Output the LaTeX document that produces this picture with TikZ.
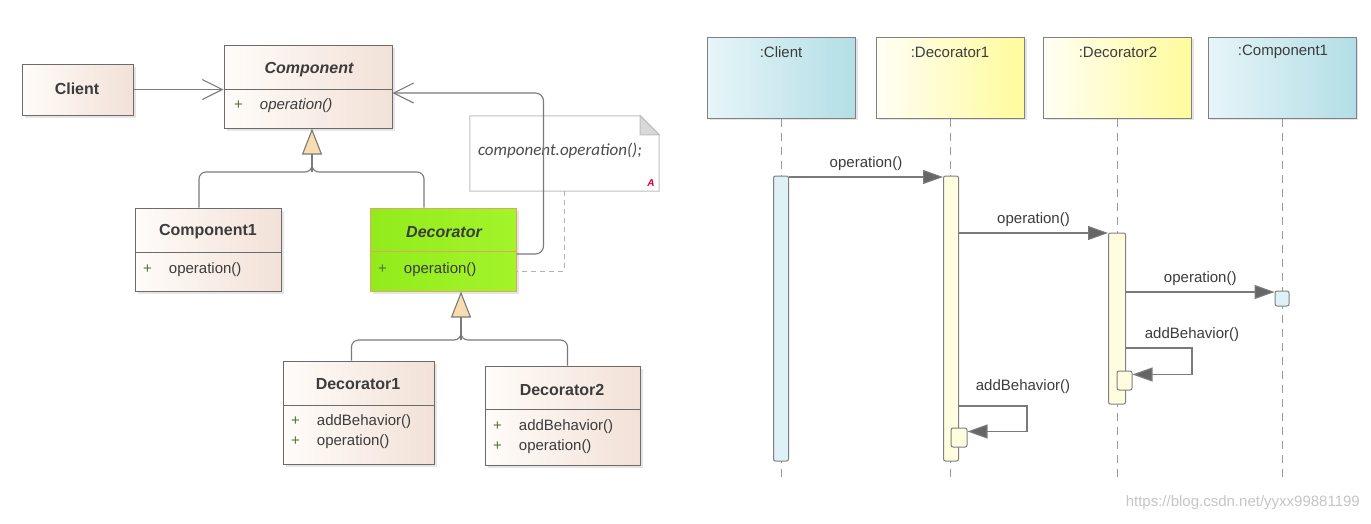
\documentclass[tikz,border=0pt]{standalone}
\usepackage{fontspec}
\setmainfont{Liberation Sans}
\newfontfamily\notefont{Carlito}
\usetikzlibrary{positioning,arrows.meta,shadows,calc}

\definecolor{clsleft}{HTML}{FFFCF9}
\definecolor{clsright}{HTML}{F2E1D7}
\definecolor{clsdraw}{HTML}{6B6B6B}
\definecolor{decleft}{HTML}{92EB1C}
\definecolor{decright}{HTML}{A3F42A}
\definecolor{decdraw}{HTML}{DCA860}
\definecolor{trifill}{HTML}{F7DDB0}
\definecolor{txtdark}{HTML}{3C3C3C}
\definecolor{plusgreen}{HTML}{55703A}
\definecolor{linegray}{HTML}{7A7A7A}
\definecolor{cyanleft}{HTML}{E6F5F9}
\definecolor{cyanright}{HTML}{B3DEE5}
\definecolor{cyanbar}{HTML}{DDF1F6}
\definecolor{yelleft}{HTML}{FFFEF4}
\definecolor{yelright}{HTML}{FFFB9C}
\definecolor{yelbar}{HTML}{FFFDDF}

\newcommand\oprow[1]{\textcolor{plusgreen}{+}\hspace{17pt}#1}

\tikzset{
  umlclass/.style={rectangle, draw=clsdraw, line width=1pt, left color=clsleft, right color=clsright,
    inner sep=0pt, drop shadow={shadow xshift=3pt, shadow yshift=-3pt, opacity=0.2}},
  declass/.style={umlclass, draw=decdraw, left color=decleft, right color=decright},
  divider/.style={draw=clsdraw, line width=1pt},
  ctitle/.style={inner sep=0pt, text=txtdark, font=\fontsize{16}{19}\selectfont\bfseries},
  cop/.style={inner sep=0pt, anchor=west, text=txtdark, font=\fontsize{15}{18}\selectfont},
  conn/.style={draw=linegray, line width=1.1pt},
  assoc/.style={conn, -{Straight Barb[length=20pt,width=20pt]}},
  gen/.style={conn, -{Triangle[length=26pt,width=20pt,fill=trifill]}},
  notelink/.style={draw=gray!60, line width=1pt, dash pattern=on 5pt off 4pt},
  head/.style={rectangle, draw=gray, line width=1pt, minimum width=148pt, minimum height=81pt,
    drop shadow={shadow xshift=2pt, shadow yshift=-2pt, opacity=0.2}},
  cyanhead/.style={head, left color=cyanleft, right color=cyanright},
  yelhead/.style={head, left color=yelleft, right color=yelright},
  headlbl/.style={inner sep=0pt, text=txtdark, font=\fontsize{15}{18}\selectfont},
  lifeline/.style={draw=gray!80, line width=1pt, dash pattern=on 8pt off 6pt},
  actbar/.style={rectangle, draw=gray, line width=1pt, rounded corners=2pt, inner sep=0pt},
  msg/.style={draw=linegray, line width=1.1pt, -{Triangle[length=20pt,width=14pt,fill=gray!80!black]}},
  msglbl/.style={inner sep=0pt, text=txtdark, font=\fontsize{15}{18}\selectfont},
}

\begin{document}
\begin{tikzpicture}[x=1pt, y=-1pt]
  \fill[white] (0,0) rectangle (1371,523);
  \useasboundingbox (0,0) rectangle (1371,523);

  % note
  \node[minimum width=189pt, minimum height=75pt, inner sep=0pt] (note) at (564.5,153.5) {};
  \draw[draw=gray!50, fill=white, line width=1pt] (note.south west) -- (note.north west)
    -- ($(note.north east)+(-19,0)$) -- ($(note.north east)+(0,19)$) -- (note.south east) -- cycle;
  \draw[draw=gray!50, fill=gray!30, line width=1pt] ($(note.north east)+(-19,0)$) -- ++(0,19) -- ++(19,0) -- cycle;
  \node[inner sep=0pt, text=gray!60!black, font=\notefont\fontsize{17}{20}\selectfont\itshape] (ntxt) at (560,151) {component.operation();};
  \node[inner sep=0pt, text=red!85!blue, font=\fontsize{10}{11}\selectfont\bfseries\itshape] (nmark) at (651,183) {A};

  % classes
  \node[umlclass, minimum width=111pt, minimum height=51pt] (client) at (77.5,89.5) {};
  \node[ctitle] (tclient) at (77,89) {Client};

  \node[umlclass, minimum width=168pt, minimum height=83pt] (comp) at (308,86.5) {};
  \draw[divider] (comp.west |- 0,89) -- (comp.east |- 0,89);
  \node[ctitle] (tcomp) at (309,70) {\itshape Component};
  \node[cop] (ocomp) at (234,106) {\oprow{\itshape operation()}};

  \node[umlclass, minimum width=146pt, minimum height=83pt] (cmp1) at (208,249.5) {};
  \draw[divider] (cmp1.west |- 0,252) -- (cmp1.east |- 0,252);
  \node[ctitle] (tcmp1) at (208,232) {Component1};
  \node[cop] (ocmp1) at (143,270) {\oprow{operation()}};

  \node[declass, minimum width=146pt, minimum height=83pt] (decor) at (443,249.5) {};
  \draw[divider, draw=decdraw] (decor.west |- 0,251) -- (decor.east |- 0,251);
  \node[ctitle] (tdecor) at (444,232) {\itshape Decorator};
  \node[cop] (odecor) at (378,270) {\oprow{operation()}};

  \node[umlclass, minimum width=151pt, minimum height=103pt] (dec1) at (358.5,412.5) {};
  \draw[divider] (dec1.west |- 0,405) -- (dec1.east |- 0,405);
  \node[ctitle] (tdec1) at (358,384) {Decorator1};
  \node[cop] (r1dec1) at (291,422) {\oprow{addBehavior()}};
  \node[cop] (r2dec1) at (291,442) {\oprow{operation()}};

  \node[umlclass, minimum width=155pt, minimum height=99pt] (dec2) at (562.5,415.5) {};
  \draw[divider] (dec2.west |- 0,409) -- (dec2.east |- 0,409);
  \node[ctitle] (tdec2) at (562,390) {Decorator2};
  \node[cop] (r1dec2) at (493,427) {\oprow{addBehavior()}};
  \node[cop] (r2dec2) at (493,447) {\oprow{operation()}};

  % class connectors
  \draw[assoc] (client.east) -- (client.east -| comp.west);
  \draw[assoc, rounded corners=8pt] (decor.east |- 0,254) -- ++(27,0) |- (comp.east |- 0,93);
  \draw[notelink] (note.south) |- (decor.east |- 0,271);

  \coordinate (jn1) at (312,172);
  \draw[gen] (jn1) -- (jn1 |- comp.south);
  \draw[conn, rounded corners=7pt] ([xshift=-9pt]cmp1.north) |- (jn1) -- ++(0,-10);
  \draw[conn, rounded corners=7pt] ([xshift=-19pt]decor.north) |- (jn1) -- ++(0,-10);

  \coordinate (jn2) at (461,340);
  \draw[gen] (jn2) -- (jn2 |- decor.south);
  \draw[conn, rounded corners=7pt] ([xshift=-7pt]dec1.north) |- (jn2) -- ++(0,-10);
  \draw[conn, rounded corners=7pt] ([xshift=5pt]dec2.north) |- (jn2) -- ++(0,-10);

  % sequence heads and lifelines
  \node[cyanhead] (hcli) at (781.5,77.5) {};
  \node[yelhead] (hdec1) at (950.5,77.5) {};
  \node[yelhead] (hdec2) at (1117.5,77.5) {};
  \node[cyanhead] (hcmp1) at (1282,77.5) {};
  \node[headlbl] (lcli) at (781,52) {:Client};
  \node[headlbl] (ldec1) at (950,52) {:Decorator1};
  \node[headlbl] (ldec2) at (1118,52) {:Decorator2};
  \node[headlbl] (lcmp1) at (1283,52) {:Component1};

  \draw[lifeline] (hcli.south) -- ++(0,359);
  \draw[lifeline] (hdec1.south) -- ++(0,359);
  \draw[lifeline] (hdec2.south) -- ++(0,359);
  \draw[lifeline] (hcmp1.south) -- ++(0,359);

  % activations
  \node[actbar, fill=cyanbar, minimum width=15pt, minimum height=285pt] (acli) at (781,318.5) {};
  \node[actbar, fill=yelbar, minimum width=15pt, minimum height=285pt] (adec1) at (951,318.5) {};
  \node[actbar, fill=yelbar, minimum width=17pt, minimum height=171pt] (adec2) at (1117,318.5) {};
  \node[actbar, fill=cyanbar, minimum width=14pt, minimum height=15pt] (acmp1) at (1282,298.5) {};
  \node[actbar, fill=yelbar, minimum width=15pt, minimum height=19pt] (ndec2) at (1124.5,380.5) {};
  \node[actbar, fill=yelbar, minimum width=16pt, minimum height=19pt] (ndec1) at (959,437.5) {};

  % messages
  \draw[msg] (acli.east |- 0,177) -- node[msglbl, above=6pt] (m1) {operation()} (adec1.west |- 0,177);
  \draw[msg] (adec1.east |- 0,233) -- node[msglbl, above=6pt] (m2) {operation()} (adec2.west |- 0,233);
  \draw[msg] (adec2.east |- 0,292) -- node[msglbl, above=6pt] (m3) {operation()} (acmp1.west |- 0,292);
  \draw[msg] (adec2.east |- 0,348) -- ++(66,0) |- ([yshift=-4pt]ndec2.north east);
  \node[msglbl] (m4) at (1192,335) {addBehavior()};
  \draw[msg] (adec1.east |- 0,406) -- ++(68,0) |- ([yshift=-4pt]ndec1.north east);
  \node[msglbl] (m5) at (1023,387) {addBehavior()};

  \node[inner sep=0pt, anchor=east, text=gray!45, font=\fontsize{15}{18}\selectfont] (wmark) at (1360,503) {https://blog.csdn.net/yyxx99881199};
\end{tikzpicture}
\end{document}
